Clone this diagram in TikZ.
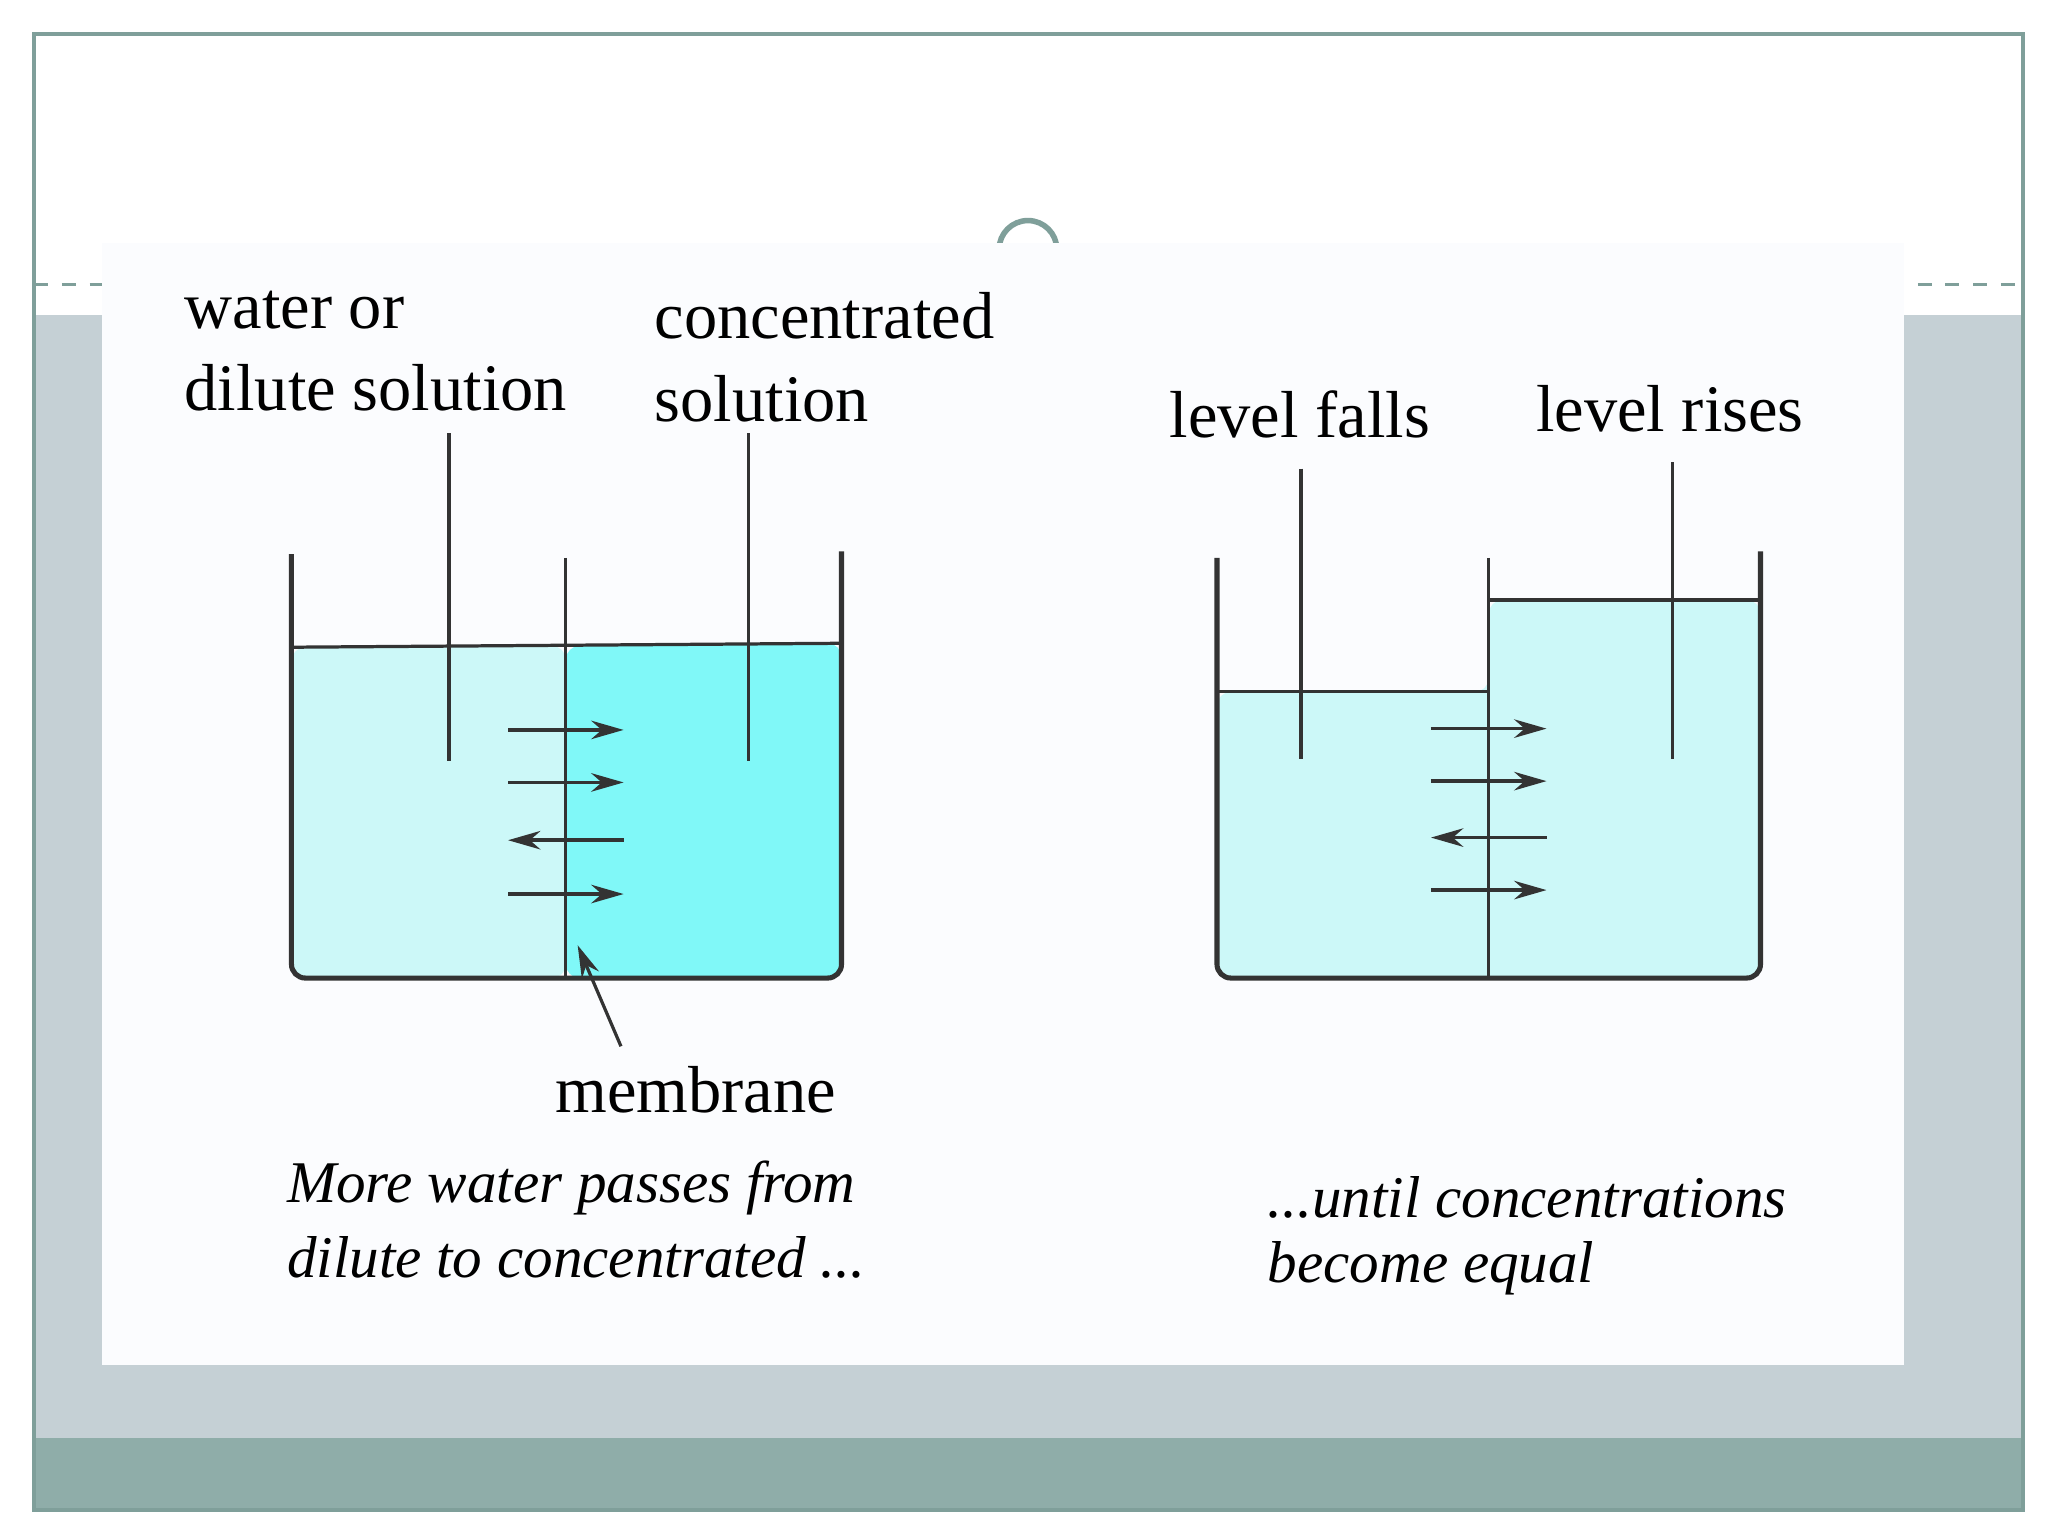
\documentclass[tikz,border=0pt]{standalone}
\usepackage{fontspec}
\setmainfont{Liberation Serif}
\usetikzlibrary{arrows.meta}
\definecolor{framec}{HTML}{7F9F9A}
\definecolor{bandc}{HTML}{C5D0D5}
\definecolor{darkband}{HTML}{8FADA9}
\definecolor{lightw}{HTML}{CCF8F8}
\definecolor{conc}{HTML}{80F8F8}
\definecolor{panel}{HTML}{FBFCFE}
\tikzset{lab/.style={font=\fontsize{14.4pt}{16pt}\selectfont, inner sep=0pt},
 ital/.style={font=\fontsize{12.8pt}{14pt}\selectfont\itshape, inner sep=0pt, anchor=west},
 wall/.style={line width=1.1pt, black!80, rounded corners=3pt},
 thin/.style={line width=0.7pt, black!80},
 flow/.style={line width=0.8pt, black!80, -{Stealth[length=7pt,width=4pt]}}}
\begin{document}
\begin{tikzpicture}[x=0.01cm,y=-0.01cm]
\useasboundingbox (0,0) rectangle (1560,1170);
\fill[white] (0,0) rectangle (1560,1170);
\fill[bandc] (26,240) rectangle (1541,1095);
\fill[darkband] (26,1095) rectangle (1541,1150);
\draw[framec, line width=0.8pt] (26,26) rectangle (1541,1150);
\draw[framec, line width=0.6pt, dashed] (26,217) -- (1541,217);
\draw[framec, line width=1.2pt] (783,190) circle (22);
\fill[panel] (78,185) rectangle (1450,1040);
% left beaker
\fill[lightw, rounded corners=3pt] (222,493) -- (222,745) -- (431,745) -- (431,492) -- cycle;
\fill[conc, rounded corners=3pt] (431,492) -- (431,745) -- (641,745) -- (641,490) -- cycle;
\draw[thin] (222,493) -- (641,490);
\draw[wall] (222,422) -- (222,745) -- (641,745) -- (641,420);
\draw[thin] (431,425) -- (431,745);
\coordinate (l1a) at (342,330); \coordinate (l1b) at (342,580);
\coordinate (l2a) at (570,330); \coordinate (l2b) at (570,580);
\draw[thin] (l1a) -- (l1b); \draw[thin] (l2a) -- (l2b);
\foreach \y in {556,596,681} \draw[flow] (387,\y) -- (475,\y);
\draw[flow] (475,640) -- (387,640);
\node[lab, anchor=base west] (t1) at (140,250) {water or};
\node[lab, anchor=base west] (t2) at (140,313) {dilute solution};
\node[lab, anchor=base west] (t3) at (498,258) {concentrated};
\node[lab, anchor=base west] (t4) at (498,321) {solution};
\node[lab] (mem) at (530,830) {membrane};
\coordinate (memtip) at (440,720);
\draw[thin, -{Stealth[length=7pt,width=4pt]}] (473,797) -- (memtip);
\node[ital] (c1) at (218,905) {More water passes from};
\node[ital] (c2) at (218,958) {dilute to concentrated ...};
% right beaker
\fill[lightw, rounded corners=3pt] (927,527) -- (927,745) -- (1341,745) -- (1341,457) -- (1134,457) -- (1134,527) -- cycle;
\draw[thin] (927,527) -- (1134,527);
\draw[thin] (1134,457) -- (1341,457);
\draw[wall] (927,425) -- (927,745) -- (1341,745) -- (1341,420);
\draw[thin] (1134,425) -- (1134,745);
\coordinate (r1a) at (991,357); \coordinate (r1b) at (991,578);
\coordinate (r2a) at (1274,352); \coordinate (r2b) at (1274,578);
\draw[thin] (r1a) -- (r1b); \draw[thin] (r2a) -- (r2b);
\foreach \y in {555,595,678} \draw[flow] (1090,\y) -- (1178,\y);
\draw[flow] (1178,638) -- (1090,638);
\node[lab, anchor=base] (t5) at (990,333) {level falls};
\node[lab, anchor=base] (t6) at (1272,329) {level rises};
\node[ital] (c3) at (965,912) {...until concentrations};
\node[ital] (c4) at (965,966) {become equal};
\end{tikzpicture}
\end{document}
